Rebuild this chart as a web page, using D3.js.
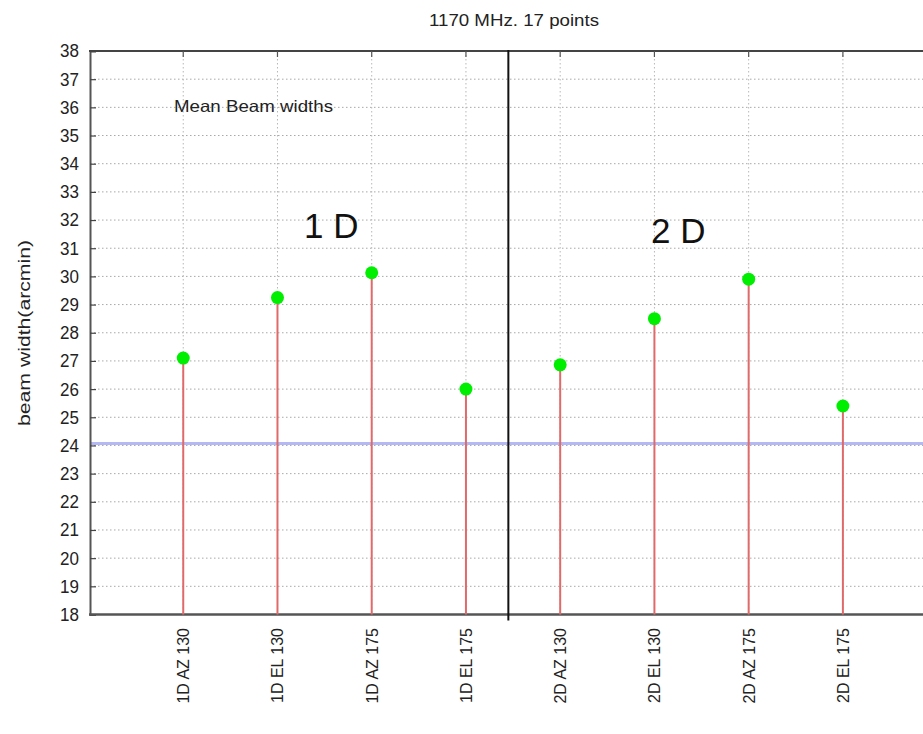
<!DOCTYPE html>
<html>
<head>
<meta charset="utf-8">
<script src="https://cdn.jsdelivr.net/npm/d3@7"></script>
<style>
  html, body { margin: 0; padding: 0; background: #fff; }
  svg { display: block; }
</style>
</head>
<body>
<svg id="chart" width="923" height="734"></svg>
<script>
// Mean beam widths per scan, 1170 MHz
const categories = ["1D AZ 130", "1D EL 130", "1D AZ 175", "1D EL 175",
                    "2D AZ 130", "2D EL 130", "2D AZ 175", "2D EL 175"];
const beamWidths = [27.1, 29.25, 30.13, 26.0, 26.86, 28.5, 29.9, 25.4];
const referenceWidth = 24.07;
const yTicks = d3.range(18, 39, 1);
const groupLabels = ["1 D", "2 D"];
const titleText = "1170 MHz. 17 points";

const svg = d3.select("#chart");
const margin = { left: 90, top: 51, bottom: 615, right: 923 };

// categories sit at positions 1..8; the split between groups is at 4.45
const x = d3.scaleLinear().domain([0, 8.85]).range([89, 923]);
const y = d3.scaleLinear().domain([18, 38]).range([614.5, 51]);
const sans = "'Liberation Sans', Arial, Helvetica, sans-serif";

// horizontal dotted grid
svg.append("g").selectAll("line").data(yTicks.filter(v => v > 18 && v < 38)).join("line")
  .attr("x1", margin.left).attr("x2", margin.right)
  .attr("y1", d => y(d)).attr("y2", d => y(d))
  .attr("stroke", "#a8a8a8").attr("stroke-width", 1).attr("stroke-dasharray", "1.5,2.5");

// vertical dotted grid at every category
svg.append("g").selectAll("line").data(categories).join("line")
  .attr("x1", (d, i) => x(i + 1)).attr("x2", (d, i) => x(i + 1))
  .attr("y1", y(38)).attr("y2", y(18))
  .attr("stroke", "#b8b8b8").attr("stroke-width", 1).attr("stroke-dasharray", "1.5,2.5");

// reference line
svg.append("line")
  .attr("x1", margin.left).attr("x2", margin.right)
  .attr("y1", y(referenceWidth)).attr("y2", y(referenceWidth))
  .attr("stroke", "#b4b8f4").attr("stroke-width", 3);

// left axis with tick labels
const yAxis = d3.axisLeft(y).tickValues(yTicks).tickSize(-6).tickPadding(12).tickFormat(d3.format("d"));
const gy = svg.append("g").attr("transform", `translate(${margin.left},0)`).call(yAxis);
gy.select(".domain").attr("stroke", "#555").attr("stroke-width", 2);
gy.selectAll(".tick line").attr("stroke", "#444").attr("stroke-width", 1.2);
gy.selectAll(".tick text").attr("font-family", sans).attr("font-size", 18.5).attr("fill", "#222")
  .attr("transform", "scale(0.92,1)");

// top and bottom borders
svg.append("line").attr("x1", margin.left - 1).attr("x2", margin.right)
  .attr("y1", y(38)).attr("y2", y(38)).attr("stroke", "#444").attr("stroke-width", 2);
svg.append("line").attr("x1", margin.left - 1).attr("x2", margin.right)
  .attr("y1", y(18)).attr("y2", y(18)).attr("stroke", "#555").attr("stroke-width", 2.5);

// top tick marks at categories
svg.append("g").selectAll("line").data(categories).join("line")
  .attr("x1", (d, i) => x(i + 1)).attr("x2", (d, i) => x(i + 1))
  .attr("y1", y(38)).attr("y2", y(38) + 6)
  .attr("stroke", "#555").attr("stroke-width", 1.2);

// group divider
svg.append("line")
  .attr("x1", x(4.45)).attr("x2", x(4.45))
  .attr("y1", y(38) - 1).attr("y2", y(18) + 6)
  .attr("stroke", "#111").attr("stroke-width", 2);

// stems
svg.append("g").selectAll("line").data(beamWidths).join("line")
  .attr("x1", (d, i) => x(i + 1)).attr("x2", (d, i) => x(i + 1))
  .attr("y1", y(18)).attr("y2", d => y(d))
  .attr("stroke", "#e06a6a").attr("stroke-width", 2);

// points
svg.append("g").selectAll("circle").data(beamWidths).join("circle")
  .attr("cx", (d, i) => x(i + 1)).attr("cy", d => y(d)).attr("r", 6.5)
  .attr("fill", "#00ee00");

// category labels, rotated
svg.append("g").selectAll("text").data(categories).join("text")
  .attr("transform", (d, i) => `translate(${x(i + 1) + 6},628) rotate(-90)`)
  .attr("text-anchor", "end")
  .attr("font-family", sans).attr("font-size", 16).attr("fill", "#222")
  .text(d => d);

// title
svg.append("text").attr("x", 514).attr("y", 26).attr("text-anchor", "middle")
  .attr("font-family", sans).attr("font-size", 16.5).attr("fill", "#222")
  .attr("textLength", 170).attr("lengthAdjust", "spacingAndGlyphs").text(titleText);

// axis label
svg.append("text").attr("transform", "translate(30,333) rotate(-90)")
  .attr("text-anchor", "middle")
  .attr("font-family", sans).attr("font-size", 16.5).attr("fill", "#222")
  .attr("textLength", 186).attr("lengthAdjust", "spacingAndGlyphs")
  .text("beam width(arcmin)");

// key text
svg.append("text").attr("x", 174).attr("y", 112)
  .attr("font-family", sans).attr("font-size", 16.5).attr("fill", "#222")
  .attr("textLength", 159).attr("lengthAdjust", "spacingAndGlyphs")
  .text("Mean Beam widths");

// group labels
svg.append("text").attr("x", 304).attr("y", 238)
  .attr("font-family", sans).attr("font-size", 35).attr("fill", "#111").text(groupLabels[0]);
svg.append("text").attr("x", 651).attr("y", 243)
  .attr("font-family", sans).attr("font-size", 35).attr("fill", "#111").text(groupLabels[1]);
</script>
</body>
</html>
